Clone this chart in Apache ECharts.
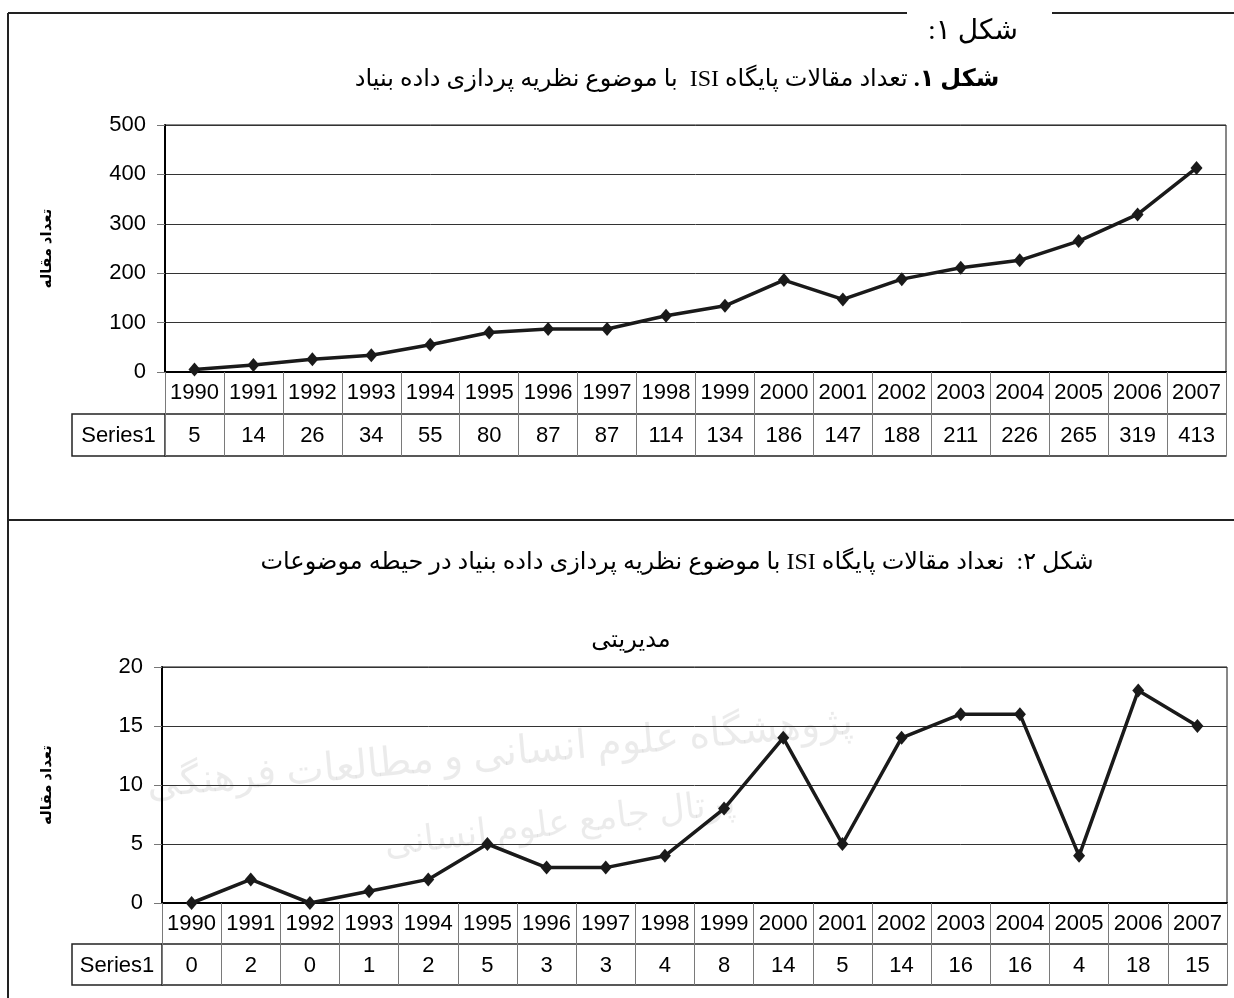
<!DOCTYPE html>
<html>
<head>
<meta charset="utf-8">
<script src="https://cdn.jsdelivr.net/npm/echarts@6/dist/echarts.min.js"></script>
<style>
html,body{margin:0;padding:0;background:#fff;}
#chart{width:1234px;height:998px;}
#chart canvas{direction:rtl;}
</style>
</head>
<body>
<div id="chart"></div>
<script>
// ---- data ----
var years = ['1990','1991','1992','1993','1994','1995','1996','1997','1998','1999','2000','2001','2002','2003','2004','2005','2006','2007'];
var seriesName = 'Series1';
var articlesAll = [5,14,26,34,55,80,87,87,114,134,186,147,188,211,226,265,319,413];
var articlesMgmt = [0,2,0,1,2,5,3,3,4,8,14,5,14,16,16,4,18,15];
var yTicks1 = {min:0, max:500, interval:100};
var yTicks2 = {min:0, max:20, interval:5};
var yAxisName = 'تعداد مقاله';
var header1 = 'شکل ۱:';
var title1Bold = 'شکل ۱.';
var title1Rest = 'تعداد مقالات پایگاه ISI  با موضوع نظریه پردازی داده بنیاد';
var title2Line1 = 'شکل ۲:  نعداد مقالات پایگاه ISI با موضوع نظریه پردازی داده بنیاد در حیطه موضوعات';
var title2Line2 = 'مدیریتی';
var watermark1 = 'پژوهشگاه علوم انسانی و مطالعات فرهنگی';
var watermark2 = 'پرتال جامع علوم انسانی';

// ---- layout ----
var G1 = {left:165, top:125, width:1061, height:247, row:42};
var G2 = {left:162, top:667, width:1065, height:236, row:41};
var labelCellLeft = 72;
var latin = "'Liberation Sans', Arial, sans-serif";
var persian = "'Liberation Serif', 'DejaVu Sans', serif";
var ink = '#1a1a1a';

function gridOf(g){ return {left:g.left, top:g.top, width:g.width, height:g.height, show:true, borderColor:'#111', borderWidth:1, backgroundColor:'transparent'}; }

function xAxesFor(gi, g, values){
  return [
    {gridIndex:gi, type:'category', data:years, position:'bottom', boundaryGap:true,
     axisLine:{show:true, onZero:false, lineStyle:{color:'#000', width:2}},
     axisTick:{show:true, length:2*g.row, interval:0, alignWithLabel:false, lineStyle:{color:'#7a7a7a', width:1}},
     axisLabel:{interval:0, margin:10, fontSize:22, color:'#000', fontFamily:latin},
     splitLine:{show:false}},
    {gridIndex:gi, type:'category', data:values.map(String), position:'bottom', offset:g.row, boundaryGap:true,
     axisLine:{show:true, onZero:false, lineStyle:{color:'#222', width:1.5}},
     axisTick:{show:false},
     axisLabel:{interval:0, margin:11, fontSize:22, color:'#000', fontFamily:latin},
     splitLine:{show:false}},
    {gridIndex:gi, type:'category', data:years, position:'bottom', offset:2*g.row, boundaryGap:true,
     axisLine:{show:true, onZero:false, lineStyle:{color:'#222', width:1.5}},
     axisTick:{show:false}, axisLabel:{show:false}, splitLine:{show:false}}
  ];
}

function yAxisFor(gi, t, gap){
  return {gridIndex:gi, type:'value', min:t.min, max:t.max, interval:t.interval,
    name:yAxisName, nameLocation:'middle', nameGap:gap, nameRotate:90,
    nameTextStyle:{fontSize:15, fontWeight:'bold', color:'#000', fontFamily:persian},
    axisLine:{show:true, lineStyle:{color:'#000', width:2}},
    axisTick:{show:true, length:8, lineStyle:{color:'#777', width:1}},
    axisLabel:{margin:19, fontSize:22, color:'#000', fontFamily:latin},
    splitLine:{show:true, lineStyle:{color:'#333', width:1}}};
}

function lineSeries(xi, yi, data){
  return {type:'line', name:seriesName, xAxisIndex:xi, yAxisIndex:yi, data:data,
    symbol:'diamond', symbolSize:[12,14], showSymbol:true,
    lineStyle:{color:ink, width:3.5}, itemStyle:{color:ink},
    animation:false, z:5};
}

function labelCell(g){
  var y0 = g.top + g.height + g.row;
  return {type:'group', children:[
    {type:'rect', shape:{x:labelCellLeft, y:y0, width:g.left-labelCellLeft, height:g.row},
     style:{fill:'transparent', stroke:'#222', lineWidth:1.5}},
    {type:'text', x:(labelCellLeft+g.left)/2, y:y0+g.row/2+1,
     style:{text:seriesName, fontSize:22, fontFamily:latin, fill:'#000', align:'center', verticalAlign:'middle'}}
  ]};
}

var frame = '#222';
var chart = echarts.init(document.getElementById('chart'), null, {renderer:'canvas'});
chart.setOption({
  animation:false,
  backgroundColor:'#fff',
  grid:[gridOf(G1), gridOf(G2)],
  xAxis: xAxesFor(0, G1, articlesAll).concat(xAxesFor(1, G2, articlesMgmt)),
  yAxis:[yAxisFor(0, yTicks1, 110), yAxisFor(1, yTicks2, 107)],
  series:[lineSeries(0,0,articlesAll), lineSeries(3,1,articlesMgmt)],
  graphic:[
    // watermark text
    {type:'text', x:500, y:755, rotation:0.09, z:-10,
     style:{text:watermark1, fontSize:40, fontFamily:persian, fill:'rgba(0,0,0,0.08)', align:'center', verticalAlign:'middle'}},
    {type:'text', x:560, y:825, rotation:0.12, z:-10,
     style:{text:watermark2, fontSize:36, fontFamily:persian, fill:'rgba(0,0,0,0.08)', align:'center', verticalAlign:'middle'}},
    // page frame
    {type:'line', shape:{x1:8, y1:13, x2:907, y2:13}, style:{stroke:frame, lineWidth:2}},
    {type:'line', shape:{x1:1052, y1:13, x2:1234, y2:13}, style:{stroke:frame, lineWidth:2}},
    {type:'line', shape:{x1:8, y1:13, x2:8, y2:998}, style:{stroke:frame, lineWidth:2}},
    {type:'line', shape:{x1:8, y1:520, x2:1234, y2:520}, style:{stroke:frame, lineWidth:2}},
    // titles
    {type:'text', x:973, y:32,
     style:{text:header1, fontSize:28, fontFamily:persian, fill:'#000', align:'center', verticalAlign:'middle'}},
    {type:'text', x:677, y:80,
     style:{text:'{r|'+title1Rest+'}{s| }{b|'+title1Bold+'}', align:'center', verticalAlign:'middle',
       rich:{r:{fontSize:24, fontFamily:persian, color:'#000'},
             s:{fontSize:24, fontFamily:persian, color:'#000'},
             b:{fontSize:24, fontWeight:'bold', fontFamily:persian, color:'#000'}}}},
    {type:'text', x:677, y:563,
     style:{text:title2Line1, fontSize:24, fontFamily:persian, fill:'#000', align:'center', verticalAlign:'middle'}},
    {type:'text', x:631, y:641,
     style:{text:title2Line2, fontSize:24, fontFamily:persian, fill:'#000', align:'center', verticalAlign:'middle'}},
    labelCell(G1),
    labelCell(G2)
  ]
});
</script>
</body>
</html>
